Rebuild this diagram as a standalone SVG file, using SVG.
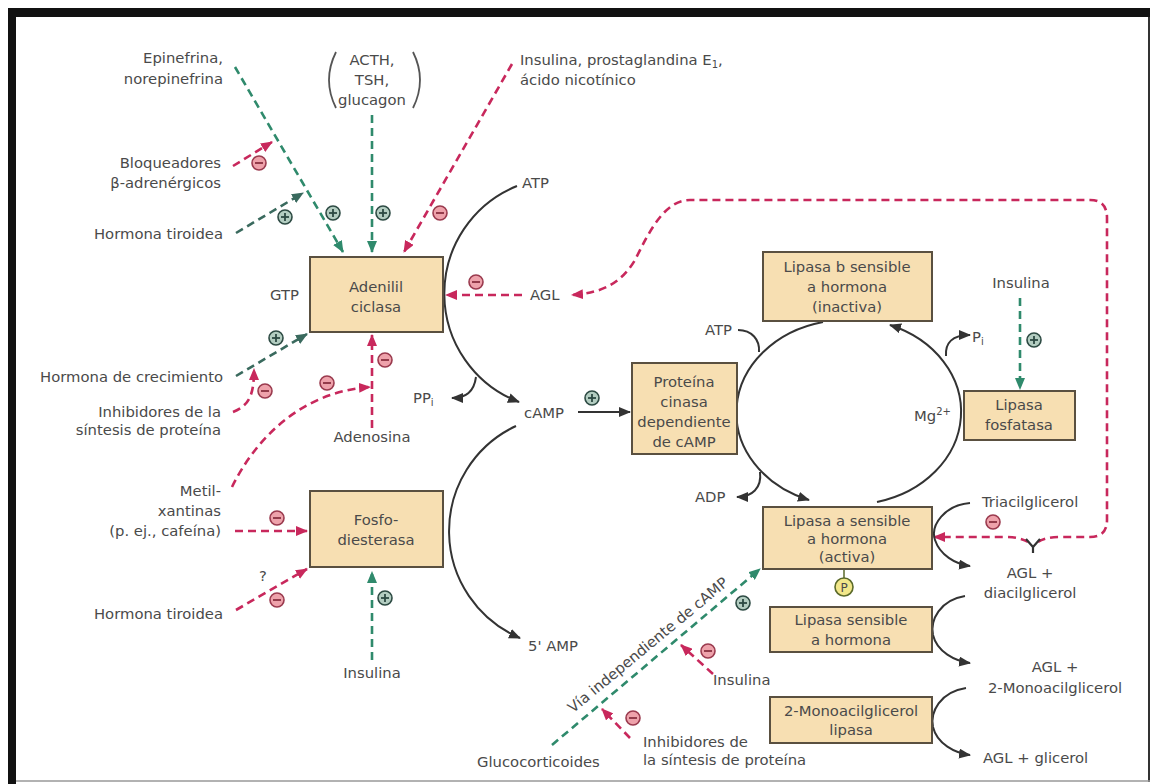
<svg xmlns="http://www.w3.org/2000/svg" width="1152" height="784" viewBox="0 0 1152 784">
<style>
text{font-family:"DejaVu Sans","Liberation Sans",sans-serif;font-size:14.8px;fill:#4a4a4a}
.m{text-anchor:middle}.e{text-anchor:end}
.box{fill:#f7dfb2;stroke:#5a5040;stroke-width:2}
.g{fill:none;stroke:#2f8a6c;stroke-width:2.6;stroke-dasharray:8 5}
.gd{fill:none;stroke:#3a6a5e;stroke-width:2.6;stroke-dasharray:8 5}
.r{fill:none;stroke:#c8285c;stroke-width:2.6;stroke-dasharray:8 5}
.k{fill:none;stroke:#333;stroke-width:2}
</style>
<defs>
<marker id="ag" markerUnits="userSpaceOnUse" markerWidth="12" markerHeight="10" refX="11" refY="5" orient="auto"><path d="M0,0 L12,5 L0,10 z" fill="#2f8a6c"/></marker>
<marker id="agd" markerUnits="userSpaceOnUse" markerWidth="12" markerHeight="10" refX="11" refY="5" orient="auto"><path d="M0,0 L12,5 L0,10 z" fill="#3a6a5e"/></marker>
<marker id="ar" markerUnits="userSpaceOnUse" markerWidth="12" markerHeight="10" refX="11" refY="5" orient="auto"><path d="M0,0 L12,5 L0,10 z" fill="#c8285c"/></marker>
<marker id="ak" markerUnits="userSpaceOnUse" markerWidth="12" markerHeight="10" refX="11" refY="5" orient="auto"><path d="M0,0 L12,5 L0,10 z" fill="#333"/></marker>
<g id="minus"><circle r="7" fill="#eea2ab" stroke="#9a3a4e" stroke-width="1.6"/><line x1="-4" y1="0" x2="4" y2="0" stroke="#8a3040" stroke-width="1.8"/></g>
<g id="plus"><circle r="7" fill="#b3cdc1" stroke="#2d4a43" stroke-width="1.6"/><line x1="-4" y1="0" x2="4" y2="0" stroke="#2d4a43" stroke-width="1.8"/><line x1="0" y1="-4" x2="0" y2="4" stroke="#2d4a43" stroke-width="1.8"/></g>
</defs>
<rect width="1152" height="784" fill="#fff"/>
<!-- frame -->
<rect x="8" y="8" width="1142" height="9" fill="#111"/>
<rect x="8" y="8" width="8" height="776" fill="#111"/>
<line x1="1149" y1="17" x2="1149" y2="782" stroke="#333" stroke-width="2"/>
<line x1="16" y1="781" x2="1150" y2="781" stroke="#999" stroke-width="1.5"/>

<g id="connectors">
<path class="g" d="M235,67 L343,252" marker-end="url(#ag)"/>
<path class="g" d="M372,115 L372,252" marker-end="url(#ag)"/>
<path class="gd" d="M236,233 L303,193" marker-end="url(#agd)"/>
<path class="gd" d="M236,376 L307,334" marker-end="url(#agd)"/>
<path class="g" d="M372,660 L372,572" marker-end="url(#ag)"/>
<path class="g" d="M1020,298 L1020,389" marker-end="url(#ag)"/>
<path class="g" d="M552,745 L760,569" marker-end="url(#ag)"/>

<path class="r" d="M233,166 L272,142" marker-end="url(#ar)"/>
<path class="r" d="M512,64 L404,252" marker-end="url(#ar)"/>
<path class="r" d="M522,295 L446,295" marker-end="url(#ar)"/>
<path class="r" d="M1038,542 Q1046,537 1060,537 L1090,537 Q1107,537 1107,520 L1107,218 Q1107,200 1090,200 L690,200 C665,200 650,230 635,260 C620,285 600,293 572,295" marker-end="url(#ar)"/>
<path class="r" d="M1028,542 Q1020,537 1005,537 L934,537" marker-end="url(#ar)"/>
<path d="M1026,539 L1033,547 L1040,539 M1033,547 L1033,553" fill="none" stroke="#333" stroke-width="2.2"/>
<path class="r" d="M372,428 L372,335" marker-end="url(#ar)"/>
<path class="r" d="M233,412 C250,405 254,394 254,369" marker-end="url(#ar)"/>
<path class="r" d="M232,487 C255,440 300,392 370,387" marker-end="url(#ar)"/>
<path class="r" d="M235,531 L307,531" marker-end="url(#ar)"/>
<path class="r" d="M236,610 L307,569" marker-end="url(#ar)"/>
<path class="r" d="M713,674 L681,645" marker-end="url(#ar)"/>
<path class="r" d="M630,738 L602,709" marker-end="url(#ar)"/>

<path class="k" d="M517,186 A116 116 0 0 0 519,402" marker-end="url(#ak)"/>
<path class="k" d="M476,377 C474,392 466,398 452,398" marker-end="url(#ak)"/>
<path class="k" d="M578,412 L630,412" marker-end="url(#ak)"/>
<path class="k" d="M516,426 A116 116 0 0 0 520,638" marker-end="url(#ak)"/>
<path class="k" d="M823,322 A111 93 0 0 0 809,500" marker-end="url(#ak)"/>
<path class="k" d="M877,502 A111 93 0 0 0 890,325" marker-end="url(#ak)"/>
<path class="k" d="M738,330 C752,330 760,340 759,352"/>
<path class="k" d="M760,472 C762,488 752,497 737,497" marker-end="url(#ak)"/>
<path class="k" d="M946,356 C945,343 952,335 970,335" marker-end="url(#ak)"/>
<path class="k" d="M970,503 C945,505 930,525 935,540 C940,555 955,564 970,566" marker-end="url(#ak)"/>
<path class="k" d="M965,596 C940,600 930,620 933,635 C937,652 955,661 970,663" marker-end="url(#ak)"/>
<path class="k" d="M966,688 C940,692 930,712 933,727 C937,744 955,753 970,755" marker-end="url(#ak)"/>
<line x1="844" y1="569" x2="844" y2="578" stroke="#5b6a2a" stroke-width="1.5"/>
</g>

<g id="signs">
<use href="#plus" x="333" y="213"/>
<use href="#plus" x="383" y="213"/>
<use href="#plus" x="285" y="217"/>
<use href="#plus" x="276" y="338"/>
<use href="#plus" x="592" y="398"/>
<use href="#plus" x="1034" y="340"/>
<use href="#plus" x="385" y="598"/>
<use href="#plus" x="743" y="603"/>
<use href="#minus" x="259" y="163"/>
<use href="#minus" x="440" y="213"/>
<use href="#minus" x="476" y="282"/>
<use href="#minus" x="385" y="360"/>
<use href="#minus" x="265" y="391"/>
<use href="#minus" x="327" y="383"/>
<use href="#minus" x="277" y="518"/>
<use href="#minus" x="277" y="600"/>
<use href="#minus" x="993" y="522"/>
<use href="#minus" x="708" y="651"/>
<use href="#minus" x="633" y="718"/>
</g>

<g id="adenilil"><rect class="box" x="310" y="257" width="133" height="75"/><text class="m" x="376" y="292">Adenilil</text><text class="m" x="376" y="312">ciclasa</text></g>
<g id="fosfodiesterasa"><rect class="box" x="310" y="491" width="133" height="76"/><text class="m" x="376" y="525">Fosfo-</text><text class="m" x="376" y="545">diesterasa</text></g>
<g id="proteina"><rect class="box" x="632" y="363" width="105" height="91"/><text class="m" x="684" y="387">Proteína</text><text class="m" x="684" y="407">cinasa</text><text class="m" x="684" y="427">dependiente</text><text class="m" x="684" y="447">de cAMP</text></g>
<g id="lipasa-b"><rect class="box" x="763" y="252" width="169" height="69"/><text class="m" x="847" y="272">Lipasa b sensible</text><text class="m" x="847" y="292">a hormona</text><text class="m" x="847" y="312">(inactiva)</text></g>
<g id="lipasa-fosfatasa"><rect class="box" x="964" y="391" width="111" height="49"/><text class="m" x="1019" y="410">Lipasa</text><text class="m" x="1019" y="430">fosfatasa</text></g>
<g id="lipasa-a"><rect class="box" x="763" y="507" width="169" height="62"/><text class="m" x="847" y="526">Lipasa a sensible</text><text class="m" x="847" y="544">a hormona</text><text class="m" x="847" y="562">(activa)</text></g>
<g id="p-circle"><circle cx="844" cy="587" r="9" fill="#f2e78a" stroke="#5b6a2a" stroke-width="1.6"/><text class="m" x="844" y="592" style="font-size:12px">P</text></g>
<g id="lipasa-sensible"><rect class="box" x="770" y="607" width="162" height="45"/><text class="m" x="851" y="625">Lipasa sensible</text><text class="m" x="851" y="645">a hormona</text></g>
<g id="mono-lipasa"><rect class="box" x="770" y="697" width="162" height="46"/><text class="m" x="851" y="716">2-Monoacilglicerol</text><text class="m" x="851" y="735">lipasa</text></g>

<g id="labels">
<text class="e" x="223" y="63">Epinefrina,</text>
<text class="e" x="223" y="84">norepinefrina</text>
<path d="M336,52 Q322,80 336,108" fill="none" stroke="#555" stroke-width="1.8"/>
<path d="M413,52 Q427,80 413,108" fill="none" stroke="#555" stroke-width="1.8"/>
<text class="m" x="372" y="65">ACTH,</text>
<text class="m" x="372" y="85">TSH,</text>
<text class="m" x="372" y="105">glucagon</text>
<text x="520" y="65">Insulina, prostaglandina E<tspan dy="3" style="font-size:10px">1</tspan><tspan dy="-3">,</tspan></text>
<text x="520" y="85">ácido nicotínico</text>
<text class="e" x="221" y="168">Bloqueadores</text>
<text class="e" x="221" y="188">β-adrenérgicos</text>
<text class="e" x="223" y="239">Hormona tiroidea</text>
<text x="522" y="188">ATP</text>
<text x="270" y="300">GTP</text>
<text x="530" y="300">AGL</text>
<text class="e" x="223" y="382">Hormona de crecimiento</text>
<text class="e" x="221" y="417">Inhibidores de la</text>
<text class="e" x="221" y="435">síntesis de proteína</text>
<text x="413" y="403">PP<tspan dy="3" style="font-size:10px">i</tspan></text>
<text x="524" y="418">cAMP</text>
<text class="m" x="372" y="442">Adenosina</text>
<text class="e" x="221" y="496">Metil-</text>
<text class="e" x="221" y="516">xantinas</text>
<text class="e" x="221" y="536">(p. ej., cafeína)</text>
<text x="259" y="581">?</text>
<text class="e" x="223" y="619">Hormona tiroidea</text>
<text x="528" y="651">5' AMP</text>
<text class="m" x="372" y="678">Insulina</text>
<text x="713" y="685">Insulina</text>
<text x="477" y="767">Glucocorticoides</text>
<text x="643" y="747">Inhibidores de</text>
<text x="643" y="765">la síntesis de proteína</text>
<text class="m" x="651" y="649" transform="rotate(-39.6 651 649)">Vía independiente de cAMP</text>
<text x="705" y="335">ATP</text>
<text x="695" y="502">ADP</text>
<text x="914" y="421">Mg<tspan dy="-6" style="font-size:10px">2+</tspan></text>
<text x="972" y="342">P<tspan dy="3" style="font-size:10px">i</tspan></text>
<text class="m" x="1021" y="288">Insulina</text>
<text x="982" y="507">Triacilglicerol</text>
<text class="m" x="1030" y="578">AGL +</text>
<text class="m" x="1030" y="598">diacilglicerol</text>
<text class="m" x="1055" y="672">AGL +</text>
<text class="m" x="1055" y="693">2-Monoacilglicerol</text>
<text x="983" y="763">AGL + glicerol</text>
</g>
</svg>
